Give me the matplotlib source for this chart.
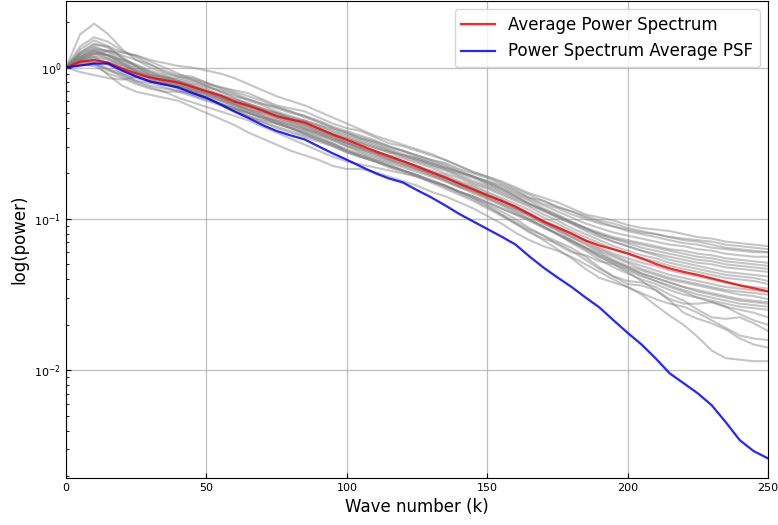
import numpy as np
import matplotlib
matplotlib.use("Agg")
import matplotlib.pyplot as plt

# wave numbers (step 5)
k_values = list(range(0, 251, 5))

avg_power = [1.0, 1.095, 1.121, 1.079, 0.985, 0.913, 0.859, 0.827, 0.796, 0.744,
             0.698, 0.653, 0.596, 0.561, 0.520, 0.478, 0.454, 0.434, 0.396, 0.361,
             0.333, 0.306, 0.281, 0.260, 0.241, 0.222, 0.204, 0.188, 0.171, 0.157,
             0.143, 0.132, 0.121, 0.108, 0.0963, 0.0879, 0.0802, 0.0721, 0.0668, 0.0630,
             0.0592, 0.0549, 0.0505, 0.0471, 0.0447, 0.0427, 0.0405, 0.0384, 0.0364, 0.0348,
             0.0332]

psf_power = [1.0, 1.031, 1.063, 1.063, 0.955, 0.872, 0.808, 0.772, 0.738, 0.679,
             0.631, 0.570, 0.512, 0.464, 0.417, 0.381, 0.356, 0.335, 0.301, 0.271,
             0.246, 0.222, 0.201, 0.185, 0.174, 0.155, 0.139, 0.123, 0.108, 0.0963,
             0.0859, 0.0766, 0.0679, 0.0566, 0.0478, 0.0411, 0.0356, 0.0303, 0.0260, 0.0214,
             0.0177, 0.0148, 0.0120, 0.00955, 0.00821, 0.00705, 0.00587, 0.00454, 0.00345, 0.00292,
             0.00262]

# individual spectra, log10(power) at the same wave numbers
spectra_log10 = [
    [0.00, 0.22, 0.29, 0.22, 0.12, 0.05, 0.02, -0.02, -0.05, -0.06,
     -0.10, -0.14, -0.17, -0.21, -0.24, -0.27, -0.30, -0.32, -0.36, -0.40,
     -0.43, -0.46, -0.49, -0.53, -0.55, -0.58, -0.61, -0.63, -0.67, -0.70,
     -0.73, -0.77, -0.81, -0.86, -0.88, -0.92, -0.95, -0.98, -1.01, -1.03,
     -1.06, -1.08, -1.10, -1.12, -1.14, -1.15, -1.17, -1.19, -1.20, -1.21, -1.22],
    [0.00, 0.07, 0.12, 0.11, 0.08, 0.05, 0.00, -0.04, -0.06, -0.07,
     -0.10, -0.13, -0.15, -0.17, -0.21, -0.25, -0.27, -0.29, -0.33, -0.37,
     -0.40, -0.42, -0.46, -0.50, -0.52, -0.55, -0.58, -0.61, -0.65, -0.69,
     -0.72, -0.75, -0.79, -0.83, -0.86, -0.89, -0.93, -0.97, -0.99, -1.01,
     -1.04, -1.06, -1.07, -1.08, -1.10, -1.12, -1.13, -1.15, -1.16, -1.17, -1.18],
    [0.00, 0.10, 0.15, 0.14, 0.10, 0.08, 0.04, 0.00, -0.04, -0.08,
     -0.12, -0.16, -0.19, -0.21, -0.24, -0.26, -0.29, -0.32, -0.35, -0.39,
     -0.42, -0.45, -0.48, -0.52, -0.55, -0.59, -0.62, -0.65, -0.69, -0.72,
     -0.75, -0.78, -0.82, -0.86, -0.90, -0.93, -0.97, -1.00, -1.03, -1.05,
     -1.07, -1.09, -1.10, -1.12, -1.13, -1.14, -1.15, -1.17, -1.18, -1.19, -1.20],
    [0.00, 0.06, 0.10, 0.08, 0.05, 0.00, -0.04, -0.07, -0.08, -0.10,
     -0.13, -0.15, -0.18, -0.22, -0.25, -0.29, -0.32, -0.35, -0.38, -0.41,
     -0.44, -0.47, -0.49, -0.52, -0.55, -0.58, -0.61, -0.64, -0.68, -0.72,
     -0.75, -0.79, -0.83, -0.87, -0.91, -0.95, -0.99, -1.03, -1.06, -1.09,
     -1.11, -1.13, -1.15, -1.17, -1.18, -1.20, -1.21, -1.23, -1.24, -1.25, -1.25],
    [0.00, 0.05, 0.08, 0.06, 0.02, -0.02, -0.05, -0.06, -0.07, -0.09,
     -0.12, -0.16, -0.20, -0.24, -0.27, -0.30, -0.33, -0.35, -0.38, -0.42,
     -0.45, -0.48, -0.51, -0.55, -0.58, -0.61, -0.64, -0.67, -0.70, -0.73,
     -0.77, -0.81, -0.85, -0.90, -0.94, -0.98, -1.02, -1.06, -1.09, -1.12,
     -1.14, -1.16, -1.18, -1.20, -1.21, -1.23, -1.24, -1.26, -1.27, -1.28, -1.29],
    [0.00, 0.12, 0.18, 0.14, 0.06, 0.01, -0.03, -0.06, -0.09, -0.11,
     -0.14, -0.18, -0.21, -0.24, -0.28, -0.32, -0.35, -0.38, -0.41, -0.44,
     -0.47, -0.50, -0.53, -0.56, -0.59, -0.62, -0.65, -0.68, -0.72, -0.76,
     -0.79, -0.83, -0.87, -0.91, -0.95, -0.99, -1.03, -1.07, -1.10, -1.13,
     -1.15, -1.17, -1.19, -1.21, -1.23, -1.25, -1.26, -1.28, -1.29, -1.30, -1.31],
    [0.00, 0.02, 0.03, -0.02, -0.05, -0.09, -0.10, -0.10, -0.12, -0.15,
     -0.17, -0.20, -0.23, -0.26, -0.28, -0.30, -0.33, -0.36, -0.39, -0.43,
     -0.46, -0.49, -0.52, -0.55, -0.58, -0.61, -0.64, -0.67, -0.71, -0.75,
     -0.78, -0.82, -0.86, -0.90, -0.94, -0.98, -1.02, -1.06, -1.10, -1.13,
     -1.16, -1.19, -1.21, -1.23, -1.25, -1.27, -1.28, -1.30, -1.31, -1.32, -1.33],
    [0.00, 0.14, 0.20, 0.17, 0.11, 0.07, 0.02, -0.03, -0.06, -0.08,
     -0.11, -0.13, -0.16, -0.19, -0.22, -0.26, -0.29, -0.33, -0.36, -0.40,
     -0.43, -0.47, -0.50, -0.54, -0.57, -0.60, -0.63, -0.66, -0.69, -0.72,
     -0.76, -0.80, -0.85, -0.90, -0.94, -0.99, -1.03, -1.08, -1.12, -1.15,
     -1.18, -1.21, -1.23, -1.25, -1.27, -1.29, -1.30, -1.32, -1.33, -1.34, -1.35],
    [0.00, 0.03, 0.05, 0.02, -0.02, -0.06, -0.08, -0.09, -0.10, -0.12,
     -0.15, -0.19, -0.22, -0.26, -0.29, -0.31, -0.34, -0.37, -0.40, -0.44,
     -0.47, -0.50, -0.53, -0.56, -0.58, -0.60, -0.63, -0.66, -0.69, -0.72,
     -0.76, -0.80, -0.84, -0.88, -0.93, -0.97, -1.02, -1.06, -1.11, -1.15,
     -1.18, -1.21, -1.24, -1.27, -1.29, -1.31, -1.33, -1.35, -1.36, -1.37, -1.38],
    [0.00, 0.09, 0.14, 0.10, 0.04, -0.02, -0.06, -0.09, -0.11, -0.14,
     -0.17, -0.20, -0.23, -0.26, -0.29, -0.33, -0.36, -0.39, -0.42, -0.45,
     -0.49, -0.52, -0.55, -0.58, -0.60, -0.63, -0.66, -0.70, -0.73, -0.77,
     -0.80, -0.84, -0.88, -0.92, -0.97, -1.01, -1.06, -1.10, -1.14, -1.18,
     -1.21, -1.24, -1.26, -1.29, -1.31, -1.33, -1.35, -1.37, -1.38, -1.39, -1.41],
    [0.00, -0.03, -0.05, -0.07, -0.08, -0.06, -0.06, -0.08, -0.11, -0.15,
     -0.18, -0.21, -0.24, -0.27, -0.30, -0.33, -0.36, -0.40, -0.43, -0.47,
     -0.50, -0.53, -0.56, -0.59, -0.62, -0.65, -0.68, -0.71, -0.75, -0.78,
     -0.82, -0.86, -0.90, -0.94, -0.99, -1.03, -1.08, -1.12, -1.16, -1.20,
     -1.23, -1.26, -1.28, -1.31, -1.33, -1.35, -1.37, -1.39, -1.40, -1.41, -1.43],
    [0.00, 0.07, 0.11, 0.08, 0.03, -0.03, -0.07, -0.10, -0.13, -0.16,
     -0.19, -0.22, -0.26, -0.30, -0.33, -0.36, -0.39, -0.42, -0.45, -0.48,
     -0.52, -0.55, -0.58, -0.61, -0.64, -0.67, -0.70, -0.73, -0.76, -0.79,
     -0.83, -0.87, -0.92, -0.96, -1.01, -1.05, -1.10, -1.14, -1.19, -1.23,
     -1.26, -1.29, -1.31, -1.34, -1.36, -1.38, -1.40, -1.42, -1.44, -1.45, -1.46],
    [0.00, 0.05, 0.07, 0.05, 0.01, -0.03, -0.06, -0.09, -0.12, -0.15,
     -0.18, -0.22, -0.25, -0.29, -0.32, -0.35, -0.38, -0.41, -0.44, -0.47,
     -0.51, -0.54, -0.57, -0.60, -0.63, -0.66, -0.69, -0.73, -0.77, -0.81,
     -0.84, -0.88, -0.93, -0.97, -1.02, -1.06, -1.11, -1.15, -1.20, -1.24,
     -1.28, -1.31, -1.34, -1.37, -1.39, -1.41, -1.43, -1.45, -1.46, -1.47, -1.48],
    [0.00, 0.10, 0.16, 0.13, 0.07, 0.01, -0.05, -0.10, -0.14, -0.18,
     -0.21, -0.24, -0.27, -0.30, -0.34, -0.37, -0.40, -0.43, -0.47, -0.50,
     -0.54, -0.57, -0.60, -0.63, -0.66, -0.69, -0.72, -0.75, -0.79, -0.82,
     -0.86, -0.90, -0.94, -0.98, -1.03, -1.07, -1.12, -1.16, -1.21, -1.25,
     -1.29, -1.33, -1.36, -1.39, -1.41, -1.43, -1.45, -1.47, -1.48, -1.49, -1.50],
    [0.00, 0.02, 0.02, -0.01, -0.04, -0.07, -0.09, -0.11, -0.13, -0.16,
     -0.20, -0.24, -0.27, -0.30, -0.33, -0.35, -0.38, -0.41, -0.44, -0.48,
     -0.52, -0.56, -0.59, -0.62, -0.65, -0.68, -0.71, -0.74, -0.78, -0.81,
     -0.85, -0.89, -0.93, -0.97, -1.02, -1.07, -1.12, -1.17, -1.22, -1.27,
     -1.31, -1.34, -1.37, -1.40, -1.42, -1.44, -1.46, -1.48, -1.50, -1.51, -1.53],
    [0.00, 0.06, 0.09, 0.08, 0.05, 0.02, -0.02, -0.05, -0.09, -0.12,
     -0.16, -0.20, -0.24, -0.28, -0.32, -0.36, -0.40, -0.44, -0.48, -0.52,
     -0.56, -0.59, -0.62, -0.65, -0.68, -0.71, -0.75, -0.78, -0.82, -0.85,
     -0.89, -0.93, -0.97, -1.01, -1.05, -1.10, -1.14, -1.19, -1.23, -1.28,
     -1.32, -1.36, -1.39, -1.42, -1.45, -1.47, -1.49, -1.51, -1.53, -1.54, -1.55],
    [0.00, 0.03, 0.04, -0.01, -0.06, -0.10, -0.13, -0.16, -0.20, -0.23,
     -0.26, -0.29, -0.32, -0.35, -0.39, -0.43, -0.47, -0.51, -0.55, -0.59,
     -0.62, -0.64, -0.66, -0.68, -0.70, -0.72, -0.75, -0.78, -0.82, -0.85,
     -0.89, -0.93, -0.97, -1.01, -1.06, -1.10, -1.15, -1.19, -1.24, -1.28,
     -1.32, -1.36, -1.39, -1.42, -1.45, -1.48, -1.50, -1.52, -1.54, -1.55, -1.56],
    [0.00, 0.09, 0.13, 0.11, 0.06, 0.01, -0.03, -0.07, -0.10, -0.13,
     -0.17, -0.21, -0.25, -0.28, -0.30, -0.32, -0.35, -0.38, -0.42, -0.46,
     -0.50, -0.54, -0.57, -0.61, -0.64, -0.67, -0.71, -0.75, -0.79, -0.83,
     -0.87, -0.91, -0.96, -1.00, -1.05, -1.10, -1.15, -1.20, -1.25, -1.30,
     -1.34, -1.38, -1.41, -1.44, -1.47, -1.50, -1.52, -1.54, -1.56, -1.57, -1.58],
    [0.00, 0.04, 0.06, 0.03, -0.01, -0.06, -0.09, -0.11, -0.12, -0.14,
     -0.16, -0.18, -0.21, -0.24, -0.27, -0.30, -0.34, -0.37, -0.41, -0.45,
     -0.49, -0.53, -0.56, -0.60, -0.63, -0.67, -0.70, -0.74, -0.78, -0.82,
     -0.86, -0.90, -0.95, -1.00, -1.05, -1.10, -1.16, -1.21, -1.27, -1.32,
     -1.36, -1.40, -1.43, -1.47, -1.50, -1.52, -1.54, -1.56, -1.58, -1.59, -1.60],
    [0.00, 0.06, 0.10, 0.06, 0.00, -0.05, -0.10, -0.13, -0.16, -0.19,
     -0.22, -0.25, -0.29, -0.33, -0.36, -0.39, -0.42, -0.45, -0.48, -0.51,
     -0.55, -0.58, -0.61, -0.65, -0.68, -0.72, -0.75, -0.78, -0.82, -0.86,
     -0.90, -0.95, -1.00, -1.06, -1.11, -1.17, -1.22, -1.24, -1.28, -1.30,
     -1.35, -1.41, -1.47, -1.53, -1.56, -1.56, -1.55, -1.58, -1.63, -1.67, -1.70],
    [0.00, 0.02, 0.01, -0.04, -0.07, -0.11, -0.14, -0.16, -0.16, -0.17,
     -0.20, -0.24, -0.28, -0.32, -0.35, -0.37, -0.40, -0.43, -0.46, -0.50,
     -0.55, -0.59, -0.62, -0.65, -0.68, -0.71, -0.74, -0.78, -0.82, -0.86,
     -0.91, -0.97, -1.03, -1.09, -1.13, -1.16, -1.21, -1.27, -1.33, -1.38,
     -1.41, -1.42, -1.45, -1.50, -1.54, -1.60, -1.65, -1.66, -1.65, -1.69, -1.74],
    [0.00, 0.04, 0.03, -0.05, -0.12, -0.16, -0.18, -0.20, -0.22, -0.26,
     -0.30, -0.34, -0.38, -0.43, -0.47, -0.51, -0.55, -0.58, -0.61, -0.65,
     -0.67, -0.67, -0.69, -0.72, -0.75, -0.78, -0.82, -0.85, -0.89, -0.93,
     -0.98, -1.03, -1.09, -1.14, -1.18, -1.21, -1.25, -1.30, -1.35, -1.40,
     -1.45, -1.49, -1.53, -1.56, -1.58, -1.62, -1.67, -1.72, -1.77, -1.79, -1.80],
    [0.00, 0.05, 0.07, 0.02, -0.04, -0.09, -0.12, -0.14, -0.15, -0.18,
     -0.21, -0.24, -0.27, -0.30, -0.33, -0.37, -0.40, -0.44, -0.47, -0.51,
     -0.55, -0.58, -0.61, -0.64, -0.68, -0.71, -0.75, -0.79, -0.83, -0.87,
     -0.92, -0.97, -1.02, -1.07, -1.11, -1.15, -1.19, -1.25, -1.32, -1.38,
     -1.43, -1.44, -1.47, -1.54, -1.62, -1.66, -1.69, -1.73, -1.79, -1.83, -1.85],
    [0.00, 0.08, 0.12, 0.08, 0.02, -0.03, -0.08, -0.11, -0.13, -0.16,
     -0.20, -0.24, -0.28, -0.32, -0.36, -0.40, -0.43, -0.46, -0.49, -0.52,
     -0.56, -0.59, -0.62, -0.66, -0.69, -0.72, -0.76, -0.80, -0.84, -0.88,
     -0.93, -0.98, -1.03, -1.08, -1.14, -1.20, -1.26, -1.33, -1.39, -1.42,
     -1.45, -1.50, -1.57, -1.64, -1.70, -1.78, -1.87, -1.92, -1.93, -1.94, -1.94],
    [0.00, 0.05, 0.09, 0.11, 0.10, 0.08, 0.05, 0.03, 0.01, 0.00,
     -0.02, -0.04, -0.07, -0.11, -0.15, -0.19, -0.22, -0.25, -0.29, -0.33,
     -0.37, -0.41, -0.45, -0.48, -0.51, -0.54, -0.57, -0.61, -0.65, -0.69,
     -0.72, -0.76, -0.80, -0.84, -0.88, -0.92, -0.95, -0.99, -1.02, -1.05,
     -1.08, -1.10, -1.12, -1.14, -1.16, -1.17, -1.19, -1.20, -1.21, -1.22, -1.22],
    [0.00, 0.07, 0.11, 0.08, 0.03, -0.01, -0.05, -0.07, -0.09, -0.12,
     -0.16, -0.20, -0.24, -0.28, -0.31, -0.34, -0.37, -0.40, -0.43, -0.46,
     -0.50, -0.53, -0.56, -0.59, -0.62, -0.65, -0.69, -0.72, -0.76, -0.80,
     -0.84, -0.88, -0.93, -0.98, -1.03, -1.08, -1.14, -1.19, -1.25, -1.29,
     -1.33, -1.37, -1.41, -1.45, -1.48, -1.52, -1.55, -1.58, -1.60, -1.62, -1.65],
]

fig = plt.figure(figsize=(7.78, 5.25), dpi=100)
ax = fig.add_axes([0.085, 0.09, 0.902, 0.908])

for row in spectra_log10:
    n = min(len(row), len(k_values))
    ax.plot(k_values[:n], np.power(10.0, row[:n]), color="grey", alpha=0.45, lw=1.5)

ax.plot(k_values, avg_power, color="red", alpha=0.85, lw=1.6, label="Average Power Spectrum")
ax.plot(k_values, psf_power, color="blue", alpha=0.85, lw=1.6, label="Power Spectrum Average PSF")

ax.set_yscale("log")
ax.set_xlim(0, 250)
ax.set_ylim(1.95e-3, 2.75)
ax.grid(True, which="major", color="#b0b0b0", lw=0.9, alpha=0.8)
ax.tick_params(axis="both", which="both", direction="in", labelsize=8)
ax.set_xlabel("Wave number (k)", fontsize=12)
ax.set_ylabel("log(power)", fontsize=12)
ax.legend(loc="upper right", fontsize=12)

fig.savefig("out.png", dpi=100)
